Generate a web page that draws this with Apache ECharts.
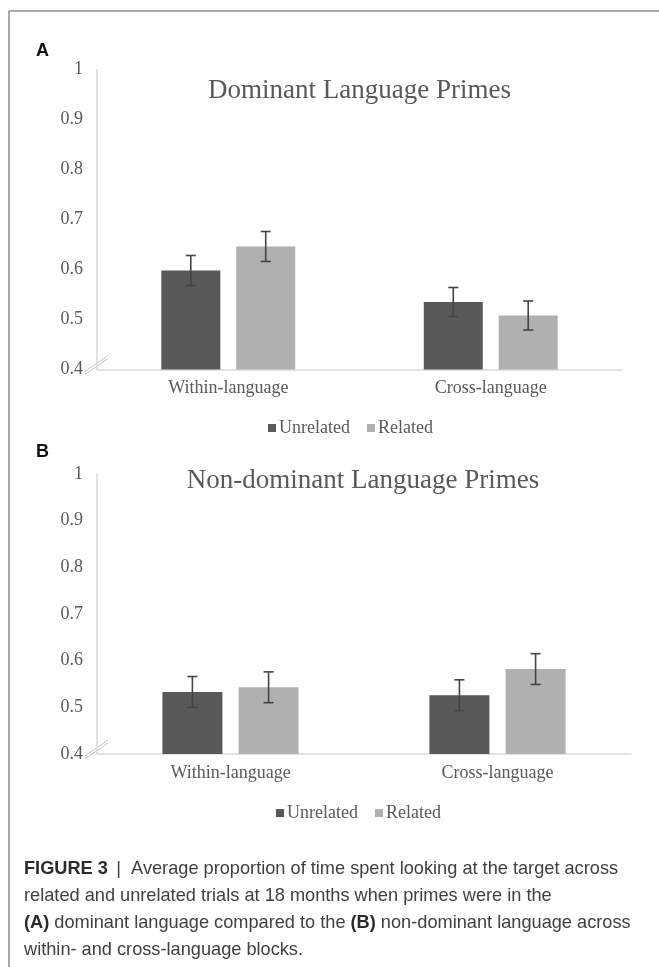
<!DOCTYPE html>
<html>
<head>
<meta charset="utf-8">
<script src="https://cdn.jsdelivr.net/npm/echarts@6/dist/echarts.min.js"></script>
<style>
  html, body { margin: 0; padding: 0; background: #fff; }
  #chart { width: 659px; height: 967px; }
</style>
</head>
<body>
<div id="chart"></div>
<script>
// Categories and series (mean proportion of looking time, with standard errors)
const categories = ['Within-language', 'Cross-language'];
const seriesNames = ['Unrelated', 'Related'];

const dominantUnrelated = [0.598, 0.535];
const dominantRelated = [0.646, 0.508];
const dominantUnrelatedErr = [0.030, 0.029];
const dominantRelatedErr = [0.030, 0.029];

const nonDominantUnrelated = [0.533, 0.526];
const nonDominantRelated = [0.543, 0.582];
const nonDominantUnrelatedErr = [0.033, 0.033];
const nonDominantRelatedErr = [0.033, 0.033];

const yTicks = { min: 0.4, max: 1, interval: 0.1 };
const panelTitles = ['Dominant Language Primes', 'Non-dominant Language Primes'];

const captionLines = [
  '{b|FIGURE 3} {n| |  Average proportion of time spent looking at the target across}',
  '{n|related and unrelated trials at 18 months when primes were in the}',
  '{b|(A)}{n| dominant language compared to the }{b|(B)}{n| non-dominant language across}',
  '{n|within- and cross-language blocks.}'
];

// Styling
const SERIF = 'Liberation Serif, Times New Roman, serif';
const SANS = 'Liberation Sans, Arial, sans-serif';
const COL_UNREL = '#595959';
const COL_REL = '#b0b0b0';
const TEXT_GREY = '#595959';
const AXIS_GREY = '#d9d9d9';

const grids = [
  { left: 97, top: 69.5, width: 525, height: 300, barWidth: 59 },
  { left: 97, top: 474, width: 534, height: 280, barWidth: 60 }
];
const BAR_GAP = 0.27;

function errorSeries(gridIdx, data, side) {
  const bw = grids[gridIdx].barWidth;
  const offset = side * (bw + bw * BAR_GAP) / 2;
  return {
    type: 'custom',
    xAxisIndex: gridIdx,
    yAxisIndex: gridIdx,
    silent: true,
    z: 5,
    data: data,
    renderItem: function (params, api) {
      const c = api.value(0), m = api.value(1), e = api.value(2);
      const hi = api.coord([c, m + e]);
      const lo = api.coord([c, m - e]);
      const x = hi[0] + offset;
      const cap = 5;
      const style = { stroke: '#444', lineWidth: 1.6 };
      return {
        type: 'group',
        children: [
          { type: 'line', shape: { x1: x, y1: hi[1], x2: x, y2: lo[1] }, style },
          { type: 'line', shape: { x1: x - cap, y1: hi[1], x2: x + cap, y2: hi[1] }, style },
          { type: 'line', shape: { x1: x - cap, y1: lo[1], x2: x + cap, y2: lo[1] }, style }
        ]
      };
    }
  };
}

function pack(means, errs) {
  return means.map((m, i) => [i, m, errs[i]]);
}

const panels = [
  { u: dominantUnrelated, r: dominantRelated, ue: dominantUnrelatedErr, re: dominantRelatedErr },
  { u: nonDominantUnrelated, r: nonDominantRelated, ue: nonDominantUnrelatedErr, re: nonDominantRelatedErr }
];

const series = [];
panels.forEach((p, g) => {
  series.push({
    name: seriesNames[0], type: 'bar', xAxisIndex: g, yAxisIndex: g,
    data: p.u, barWidth: grids[g].barWidth, barGap: (BAR_GAP * 100) + '%',
    itemStyle: { color: COL_UNREL }, silent: true
  });
  series.push({
    name: seriesNames[1], type: 'bar', xAxisIndex: g, yAxisIndex: g,
    data: p.r, barWidth: grids[g].barWidth, barGap: (BAR_GAP * 100) + '%',
    itemStyle: { color: COL_REL }, silent: true
  });
  series.push(errorSeries(g, pack(p.u, p.ue), -1));
  series.push(errorSeries(g, pack(p.r, p.re), 1));
});

const legendTops = [414, 799];
const legendLeft = [263, 271];

const chart = echarts.init(document.getElementById('chart'), null, { renderer: 'canvas' });

const option = {
  animation: false,
  backgroundColor: '#fff',
  grid: grids.map(g => ({ left: g.left, top: g.top, width: g.width, height: g.height, containLabel: false })),
  xAxis: grids.map((g, i) => ({
    type: 'category', gridIndex: i, data: categories,
    axisLine: { lineStyle: { color: AXIS_GREY, width: 1.5 } },
    axisTick: { show: false },
    axisLabel: { color: TEXT_GREY, fontFamily: SERIF, fontSize: 18, margin: 10 }
  })),
  yAxis: grids.map((g, i) => ({
    type: 'value', gridIndex: i, min: yTicks.min, max: yTicks.max, interval: yTicks.interval,
    axisLine: { show: true, lineStyle: { color: AXIS_GREY, width: 1.5 } },
    axisTick: { show: false },
    splitLine: { show: false },
    axisLabel: {
      color: TEXT_GREY, fontFamily: SERIF, fontSize: 18, margin: 14,
      formatter: v => (Math.abs(v - 1) < 1e-9 ? '1' : v.toFixed(1))
    }
  })),
  legend: [0, 1].map(i => ({
    data: seriesNames,
    left: legendLeft[i], top: legendTops[i],
    icon: 'rect', itemWidth: 8, itemHeight: 8, itemGap: 17,
    selectedMode: false,
    textStyle: { color: TEXT_GREY, fontFamily: SERIF, fontSize: 18, padding: [0, 0, 0, -2] }
  })),
  series: series,
  graphic: []
};

chart.setOption(option);

// Frame, panel letters, titles, axis breaks and caption
const gfx = [];
gfx.push({ type: 'line', shape: { x1: 9, y1: 11, x2: 659, y2: 11 }, style: { stroke: '#8c8c8c', lineWidth: 1.5 }, silent: true });
gfx.push({ type: 'line', shape: { x1: 9, y1: 11, x2: 9, y2: 967 }, style: { stroke: '#8c8c8c', lineWidth: 1.5 }, silent: true });

const letterY = [51, 452];
['A', 'B'].forEach((t, i) => {
  gfx.push({ type: 'text', x: 36, y: letterY[i], style: { text: t, font: 'bold 18px ' + SANS, fill: '#111', verticalAlign: 'middle' }, silent: true });
});

const titleX = [359.5, 363];
const titleY = [91, 480.5];
panelTitles.forEach((t, i) => {
  gfx.push({ type: 'text', x: titleX[i], y: titleY[i], style: { text: t, fontFamily: SERIF, fontSize: 27, fill: TEXT_GREY, align: 'center', verticalAlign: 'middle' }, silent: true });
});

// axis break marks at the foot of each value axis
[0, 1].forEach(i => {
  const y0 = chart.convertToPixel({ yAxisIndex: i }, yTicks.min);
  const x0 = grids[i].left;
  [0, 3].forEach(d => {
    gfx.push({ type: 'line', shape: { x1: x0 - 12, y1: y0 + 2 + d, x2: x0 + 11, y2: y0 - 14 + d }, style: { stroke: '#c4c4c4', lineWidth: 1 }, silent: true });
  });
});

const capY = [869, 896, 923, 950];
captionLines.forEach((line, i) => {
  gfx.push({
    type: 'text', x: 24, y: capY[i], silent: true,
    style: {
      text: line, verticalAlign: 'middle',
      rich: {
        b: { fontFamily: SANS, fontSize: 18.2, fontWeight: 'bold', fill: '#2b2b2b' },
        n: { fontFamily: SANS, fontSize: 18.2, fill: '#404040' }
      }
    }
  });
});

chart.setOption({ graphic: gfx });
</script>
</body>
</html>
